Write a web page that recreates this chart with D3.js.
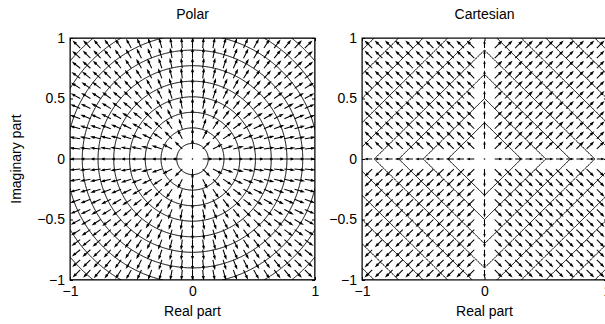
<!DOCTYPE html>
<html>
<head>
<meta charset="utf-8">
<script src="https://cdn.jsdelivr.net/npm/d3@7"></script>
<style>
body { margin: 0; background: #fff; }
text { font-family: "Liberation Sans", Arial, sans-serif; font-size: 14px; fill: #000; }
.frame { fill: none; stroke: #000; stroke-width: 1; }
.contour { fill: none; stroke: #000; stroke-width: 1; }
.arrow { fill: none; stroke: #000; stroke-width: 1.05; }
</style>
</head>
<body>
<div id="chart"></div>
<script>
var width = 605,
    height = 324;

// quiver sample points (same on both axes)
var gridPts = [-1, -0.9167, -0.8333, -0.75, -0.6667, -0.5833, -0.5, -0.4167, -0.3333, -0.25, -0.1667, -0.0833,
               0, 0.0833, 0.1667, 0.25, 0.3333, 0.4167, 0.5, 0.5833, 0.6667, 0.75, 0.8333, 0.9167, 1];

// contour levels
var polarLevels = [0.129, 0.257, 0.386, 0.514, 0.643, 0.771, 0.9, 1.029, 1.157, 1.286];
var cartLevels = [0.3, 0.5, 0.7, 0.9, 1.1, 1.3, 1.5, 1.7, 1.9];

var xTicks = [-1, 0, 1];
var yTicks = [-1, -0.5, 0, 0.5, 1];
var titles = ["Polar", "Cartesian"];

var panels = [
  { title: titles[0], left: 70, levels: polarLevels,
    f: function(x, y) { return Math.sqrt(x * x + y * y); },
    grad: function(x, y) { var r = Math.sqrt(x * x + y * y); return r === 0 ? [0, 0] : [x / r, y / r]; } },
  { title: titles[1], left: 362, levels: cartLevels,
    f: function(x, y) { return Math.abs(x) + Math.abs(y); },
    grad: function(x, y) { return [Math.sign(x), Math.sign(y)]; } }
];

var plotTop = 38, plotW = 245, plotH = 242;

var svg = d3.select("#chart").append("svg")
    .attr("width", width)
    .attr("height", height);

var defs = svg.append("defs");

panels.forEach(function(p, i) {
  var x = d3.scaleLinear().domain([-1, 1]).range([p.left, p.left + plotW]);
  var y = d3.scaleLinear().domain([-1, 1]).range([plotTop + plotH, plotTop]);

  defs.append("clipPath").attr("id", "clip" + i)
    .append("rect")
      .attr("x", p.left).attr("y", plotTop)
      .attr("width", plotW).attr("height", plotH);

  var g = svg.append("g").attr("clip-path", "url(#clip" + i + ")");

  // contours on a fine grid
  var n = 301;
  var vals = new Array(n * n);
  for (var j = 0; j < n; j++) {
    for (var k = 0; k < n; k++) {
      var xx = -1 + 2 * k / (n - 1),
          yy = -1 + 2 * j / (n - 1);
      vals[j * n + k] = p.f(xx, yy);
    }
  }
  var gx = d3.scaleLinear().domain([0.5, n - 0.5]).range([-1, 1]);
  var proj = d3.geoTransform({
    point: function(a, b) { this.stream.point(x(gx(a)), y(gx(b))); }
  });
  var cont = d3.contours().size([n, n]).thresholds(p.levels)(vals);
  g.selectAll("path.contour")
    .data(cont)
    .enter().append("path")
      .attr("class", "contour")
      .attr("d", d3.geoPath(proj));

  // quiver
  var h = gridPts[1] - gridPts[0];
  var maxMag = 0;
  var vecs = [];
  gridPts.forEach(function(yy) {
    gridPts.forEach(function(xx) {
      var d = p.grad(xx, yy);
      maxMag = Math.max(maxMag, Math.sqrt(d[0] * d[0] + d[1] * d[1]));
      vecs.push({ x: xx, y: yy, u: d[0], v: d[1] });
    });
  });
  var s = 0.9 * h / maxMag;
  var alpha = 0.33, beta = 0.33;

  g.selectAll("path.arrow")
    .data(vecs)
    .enter().append("path")
      .attr("class", "arrow")
      .attr("d", function(d) {
        var u = d.u * s, v = d.v * s;
        if (u === 0 && v === 0) {
          return "M" + x(d.x) + "," + y(d.y) + "h0.01";
        }
        var tx = d.x + u, ty = d.y + v;
        return "M" + x(d.x) + "," + y(d.y) + "L" + x(tx) + "," + y(ty) +
          "M" + x(tx - alpha * (u + beta * v)) + "," + y(ty - alpha * (v - beta * u)) +
          "L" + x(tx) + "," + y(ty) +
          "L" + x(tx - alpha * (u - beta * v)) + "," + y(ty - alpha * (v + beta * u));
      })
      .style("stroke-linecap", function(d) { return d.u === 0 && d.v === 0 ? "round" : null; })
      .style("stroke-width", function(d) { return d.u === 0 && d.v === 0 ? 1.6 : null; });

  // axes
  var fmt = d3.format("");
  svg.append("g")
      .attr("transform", "translate(0," + (plotTop + plotH) + ")")
      .call(d3.axisBottom(x).tickValues(xTicks).tickFormat(fmt).tickSizeInner(-3).tickSizeOuter(0).tickPadding(6))
      .call(styleAxis);
  svg.append("g")
      .attr("transform", "translate(0," + plotTop + ")")
      .call(d3.axisTop(x).tickValues(xTicks).tickFormat("").tickSizeInner(-3).tickSizeOuter(0))
      .call(styleAxis);
  svg.append("g")
      .attr("transform", "translate(" + p.left + ",0)")
      .call(d3.axisLeft(y).tickValues(yTicks).tickFormat(fmt).tickSizeInner(-3).tickSizeOuter(0).tickPadding(5))
      .call(styleAxis);
  svg.append("g")
      .attr("transform", "translate(" + (p.left + plotW) + ",0)")
      .call(d3.axisRight(y).tickValues(yTicks).tickFormat("").tickSizeInner(-3).tickSizeOuter(0))
      .call(styleAxis);

  svg.append("rect")
      .attr("class", "frame")
      .attr("x", p.left).attr("y", plotTop)
      .attr("width", plotW).attr("height", plotH);

  svg.append("text")
      .attr("x", p.left + plotW / 2)
      .attr("y", 19)
      .attr("text-anchor", "middle")
      .text(p.title);

  svg.append("text")
      .attr("x", p.left + plotW / 2)
      .attr("y", 316)
      .attr("text-anchor", "middle")
      .text("Real part");
});

svg.append("text")
    .attr("transform", "translate(21," + (plotTop + plotH / 2) + ") rotate(-90)")
    .attr("text-anchor", "middle")
    .text("Imaginary part");

function styleAxis(sel) {
  sel.select(".domain").remove();
  sel.selectAll(".tick line").attr("stroke", "#000");
  sel.selectAll(".tick text").style("font-size", "14px").attr("fill", "#000")
    .attr("font-family", null);
  sel.attr("font-family", null).attr("font-size", null);
}
</script>
</body>
</html>
